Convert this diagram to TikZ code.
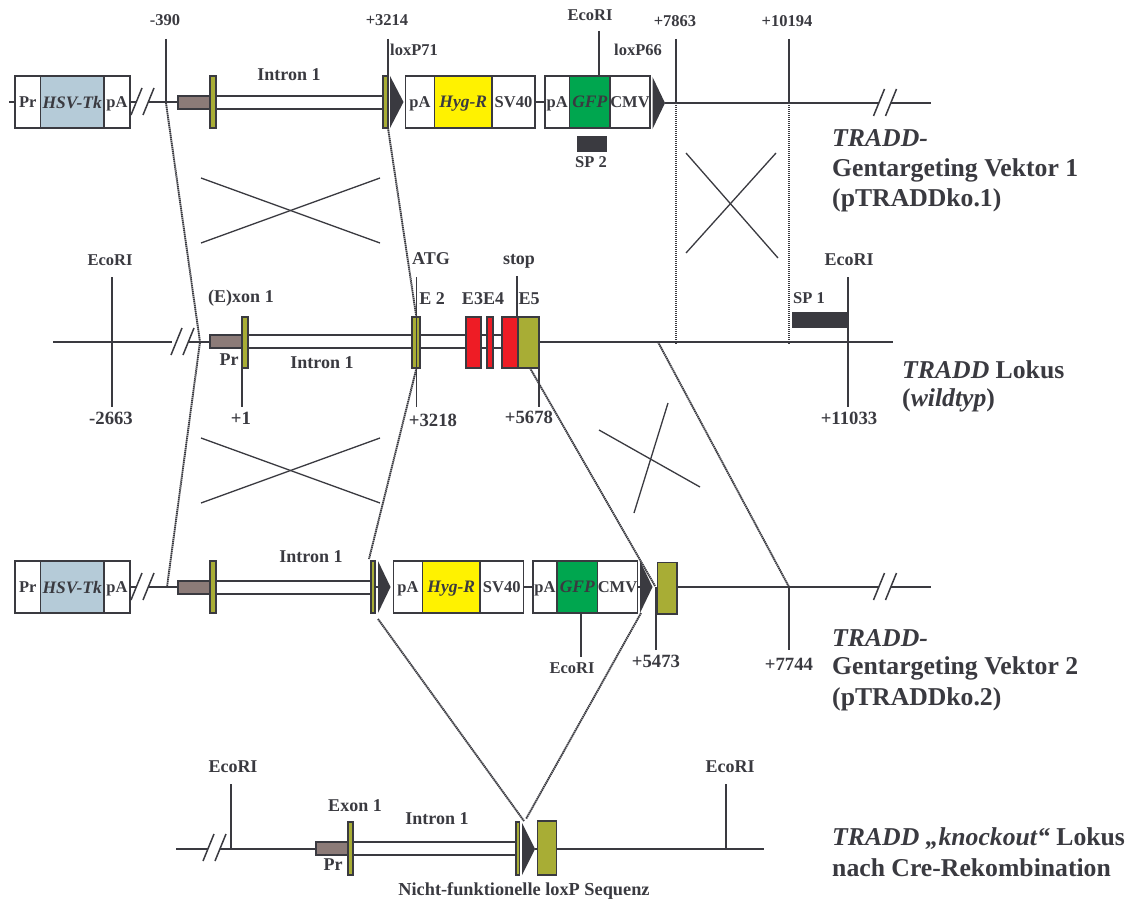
\documentclass[tikz,border=0pt]{standalone}
\usepackage{fontspec}
\setmainfont{Liberation Serif}
\definecolor{ink}{HTML}{3A3A40}
\definecolor{tkblue}{HTML}{B5CBD8}
\definecolor{hygy}{HTML}{FFF200}
\definecolor{gfpg}{HTML}{00A64F}
\definecolor{olive}{HTML}{A8AD35}
\definecolor{brownp}{HTML}{8C7B78}
\definecolor{redx}{HTML}{EE1C25}
\newcommand{\bx}[6]{%
  \pgfmathsetmacro\bxw{#4-#2}\pgfmathsetmacro\bxh{#5-#3}%
  \node[#6,minimum width=\bxw pt,minimum height=\bxh pt,anchor=north west] (#1) at (#2,#3) {};}
\newcommand{\cell}[7]{%
  \pgfmathsetmacro\bxw{#4-#2}\pgfmathsetmacro\bxh{#5-#3}%
  \node[boxp,#6,minimum width=\bxw pt,minimum height=\bxh pt,anchor=north west] (#1) at (#2,#3) {#7};}
\newcommand{\tri}[4]{%
  \coordinate (#1-w) at (#2,#4); \coordinate (#1-e) at (#3,#4);
  \fill[ink] (#2,#4-26) -- (#3,#4) -- (#2,#4+26) -- cycle;}
\newcommand{\brk}[2]{%
  \draw[thinl] (#1,#2+13) -- (#1+11,#2-14);
  \draw[thinl] (#1+12,#2+13) -- (#1+23,#2-14);}
\begin{document}
\begin{tikzpicture}[x=1pt,y=-1pt,line cap=butt,
  mainl/.style={draw=ink,line width=1.9pt},
  thinl/.style={draw=ink,line width=1.5pt},
  xl/.style={draw=ink,line width=1.3pt},
  dotl/.style={draw=ink,line width=1.9pt,dash pattern=on 1.4pt off 0.6pt},
  boxp/.style={draw=ink,line width=1.7pt,fill=white,inner sep=0pt,outer sep=0pt,text=ink,text depth=0pt,font=\bfseries\fontsize{16.5}{16.5}\selectfont},
  solid box/.style={draw=ink,line width=1.7pt,inner sep=0pt,outer sep=0pt},
  lab/.style={text=ink,inner sep=0pt,font=\bfseries\fontsize{16.5}{17}\selectfont},
  labb/.style={text=ink,inner sep=0pt,font=\bfseries\fontsize{18}{18}\selectfont},
  labn/.style={text=ink,inner sep=0pt,font=\bfseries\fontsize{18.7}{19}\selectfont},
  intr/.style={text=ink,inner sep=0pt,font=\bfseries\fontsize{18}{18}\selectfont},
  big/.style={text=ink,inner sep=0pt,anchor=west,font=\bfseries\fontsize{25.7}{26}\selectfont},
  ital/.style={font=\bfseries\itshape\fontsize{17.5}{18}\selectfont}]
\path[fill=white] (0,0) rectangle (1135,899);
\useasboundingbox (0,0) rectangle (1135,899);

% ---- coordinates for connector ends
\coordinate (a1) at (166,39);   \coordinate (a2) at (166,103);
\coordinate (b1) at (388,39);   \coordinate (b2) at (388,128);
\coordinate (c1) at (599,31);
\coordinate (d1) at (676,39);   \coordinate (d2) at (676,103);  \coordinate (d3) at (676,344);
\coordinate (e1) at (789,39);   \coordinate (e2) at (789,103);  \coordinate (e3) at (789,344);
\coordinate (f1) at (200,342);  \coordinate (f2) at (167,587);
\coordinate (g1) at (416.5,318);\coordinate (g2) at (416.5,368);\coordinate (g3) at (369,559);
\coordinate (h1) at (530,368);  \coordinate (h2) at (655,586);
\coordinate (i1) at (658,342);  \coordinate (i2) at (789,587);
\coordinate (j1) at (378,619);  \coordinate (j2) at (524,821);
\coordinate (k1) at (641,613);  \coordinate (k2) at (526,819);

% ---- dotted homology lines
\draw[dotl] (a2) -- (f1) -- (f2);
\draw[dotl] (b2) -- (g1);
\draw[dotl] (g2) -- (g3);
\draw[dotl] (d2) -- (d3);
\draw[dotl] (e2) -- (e3);
\draw[dotl] (h1) -- (h2);
\draw[dotl] (i1) -- (i2);
\draw[dotl] (j1) -- (j2);
\draw[dotl] (k1) -- (k2);

% ---- crossover marks
\draw[xl] (201,178) -- (380,243);  \draw[xl] (201,243) -- (380,178);
\draw[xl] (686,153) -- (778,258);  \draw[xl] (776,153) -- (686,253);
\draw[xl] (201,438) -- (380,503);  \draw[xl] (201,503) -- (380,438);
\draw[xl] (599,430) -- (700,487);  \draw[xl] (668,403) -- (634,513);

% ================= Row 1
\coordinate (r1s) at (9,102);
\cell{r1pr}{15}{76}{40.5}{128}{}{Pr}
\cell{r1tk}{40.5}{76}{104}{128}{fill=tkblue,ital}{HSV-Tk}
\cell{r1pa}{104}{76}{130}{128}{}{pA}
\coordinate (r1g1) at (136,102); \coordinate (r1g2) at (148,102);
\draw[mainl] (r1s) -- (r1pr.west);
\draw[mainl] (r1pa.east) -- (r1g1);
\brk{131}{102}
\bx{r1prom}{178}{96}{210}{109}{solid box,fill=brownp}
\draw[mainl] (r1g2) -- (r1g2 -| r1prom.west);
\draw[mainl] (216,96) -- (383,96);
\draw[mainl] (216,109) -- (383,109);
\bx{r1e1}{210}{76}{216}{128}{solid box,fill=olive}
\bx{r1e2}{383}{76}{388}{128}{solid box,fill=olive}
\draw[thinl] (a1) -- (a2);
\draw[thinl] (b1) -- (b2);
\tri{r1t1}{390}{403.5}{102}
\cell{r1p2}{405.5}{76}{434.5}{128}{}{pA}
\cell{r1hy}{434.5}{76}{492}{128}{fill=hygy,ital}{Hyg-R}
\cell{r1sv}{492}{76}{535}{128}{}{SV40}
\cell{r1p3}{545}{76}{569.5}{128}{}{pA}
\cell{r1gf}{569.5}{76}{610}{128}{fill=gfpg,ital}{GFP}
\cell{r1cm}{610}{76}{650}{128}{}{CMV}
\draw[mainl] (r1sv.east) -- (r1p3.west);
\draw[thinl] (c1) -- (r1gf.north -| c1);
\tri{r1t2}{652.5}{665}{103}
\coordinate (r1x1) at (879,103); \coordinate (r1x2) at (891,103); \coordinate (r1end) at (931,103);
\draw[mainl] (r1t2-e) -- (r1x1);
\draw[mainl] (r1x2) -- (r1end);
\brk{873.5}{103}
\draw[thinl] (d1) -- (d2);
\draw[thinl] (e1) -- (e2);
\bx{sp2}{577.5}{137}{606.5}{151}{solid box,fill=ink}

\node[lab] (l1) at (165,20) {-390};
\node[lab] (l2) at (387,20) {+3214};
\node[lab] (l3) at (414,50) {loxP71};
\node[intr] (l4) at (289,75) {Intron 1};
\node[lab] (l5) at (590,15) {EcoRI};
\node[lab] (l6) at (675,21) {+7863};
\node[lab] (l7) at (787,21) {+10194};
\node[lab] (l8) at (638,50) {loxP66};
\node[lab] (l9) at (591,162) {SP 2};
\node[big] (t1a) at (832,138) {\itshape TRADD-};
\node[big] (t1b) at (832,170) {Gentargeting Vektor 1};
\node[big] (t1c) at (832,200) {(pTRADDko.1)};

% ================= Row 2 (wild type)
\coordinate (r2s) at (53,342); \coordinate (r2g1) at (172,342); \coordinate (r2g2) at (188,342); \coordinate (r2end) at (893,342);
\draw[mainl] (r2s) -- (r2g1);
\brk{171}{342}
\bx{r2prom}{210}{335}{242}{348}{solid box,fill=brownp}
\draw[mainl] (r2g2) -- (r2g2 -| r2prom.west);
\draw[mainl] (248,335) -- (502,335);
\draw[mainl] (248,348) -- (502,348);
\bx{r2e1}{242}{317}{248}{368}{solid box,fill=olive}
\bx{r2e2}{412}{317}{420}{368}{solid box,fill=olive}
\bx{r2e3}{466}{317}{481}{368}{solid box,fill=redx}
\bx{r2e4}{487}{317}{493}{368}{solid box,fill=redx}
\bx{r2e5}{502}{317}{518}{368}{solid box,fill=redx}
\bx{r2e6}{518}{317}{539}{368}{solid box,fill=olive}
\draw[mainl] (r2e6.east |- r2end) -- (r2end);
\coordinate (v1a) at (416.5,277); \coordinate (v1b) at (416.5,407);
\coordinate (v2a) at (517,276);
\coordinate (v3a) at (242,368);   \coordinate (v3b) at (242,407);
\coordinate (v4a) at (539,368);   \coordinate (v4b) at (539,407);
\coordinate (v5a) at (112,277);   \coordinate (v5b) at (112,407);
\coordinate (v6a) at (848,277);   \coordinate (v6b) at (848,407);
\draw[thinl] (v1a) -- (v1b);
\draw[thinl] (v2a) -- (v2a |- r2e6.north);
\draw[thinl] (v3a) -- (v3b);
\draw[thinl] (v4a) -- (v4b);
\draw[thinl] (v5a) -- (v5b);
\draw[thinl] (v6a) -- (v6b);
\bx{sp1}{793}{313}{848}{327}{solid box,fill=ink}

\node[lab] (m1) at (110,260) {EcoRI};
\node[labb] (m2) at (431,259) {ATG};
\node[labb] (m3) at (519,261) {stop};
\node[labb] (m4) at (849,260) {EcoRI};
\node[labb] (m5) at (241,298) {(E)xon 1};
\node[labb] (m6) at (432,299) {E 2};
\node[labb] (m7) at (483,299) {E3E4};
\node[labb] (m8) at (529,299) {E5};
\node[lab] (m9) at (809,298) {SP 1};
\node[labb] (m10) at (229,360) {Pr};
\node[intr] (m11) at (322,363) {Intron 1};
\node[labn] (m12) at (111,418) {-2663};
\node[labn] (m13) at (241,418) {+1};
\node[labn] (m14) at (433,420) {+3218};
\node[labn] (m15) at (529,417) {+5678};
\node[labn] (m16) at (849,418) {+11033};
\node[big] (t2a) at (902,370) {\itshape TRADD\upshape{} Lokus};
\node[big] (t2b) at (902,400) {(\itshape wildtyp\upshape)};

% ================= Row 3
\cell{r3pr}{15}{561}{40.5}{613}{}{Pr}
\cell{r3tk}{40.5}{561}{104}{613}{fill=tkblue,ital}{HSV-Tk}
\cell{r3pa}{104}{561}{130}{613}{}{pA}
\coordinate (r3g1) at (136,587); \coordinate (r3g2) at (148,587);
\draw[mainl] (r3pa.east) -- (r3g1);
\brk{131}{587}
\bx{r3prom}{178}{581}{210}{594}{solid box,fill=brownp}
\draw[mainl] (r3g2) -- (r3g2 -| r3prom.west);
\draw[mainl] (216,581) -- (371,581);
\draw[mainl] (216,594) -- (371,594);
\bx{r3e1}{210}{561}{216}{613}{solid box,fill=olive}
\bx{r3e2}{371}{561}{375}{613}{solid box,fill=olive}
\tri{r3t1}{378}{390.5}{587}
\draw[mainl] (r3e2.east) -- (r3t1-w);
\cell{r3p2}{393.5}{561}{422.5}{613}{}{pA}
\cell{r3hy}{422.5}{561}{480}{613}{fill=hygy,ital}{Hyg-R}
\cell{r3sv}{480}{561}{523.5}{613}{}{SV40}
\cell{r3p3}{533}{561}{557}{613}{}{pA}
\cell{r3gf}{557}{561}{597.5}{613}{fill=gfpg,ital}{GFP}
\cell{r3cm}{597.5}{561}{637.5}{613}{}{CMV}
\draw[mainl] (r3sv.east) -- (r3p3.west);
\tri{r3t2}{640}{652.5}{587}
\draw[mainl] (r3cm.east) -- (r3t2-w);
\bx{r3ex}{657.5}{562.5}{677}{614}{solid box,fill=olive}
\coordinate (r3x1) at (879,587); \coordinate (r3x2) at (891,587); \coordinate (r3end) at (931,587);
\draw[mainl] (r3ex.east |- r3x1) -- (r3x1);
\draw[mainl] (r3x2) -- (r3end);
\brk{873.5}{587}
\coordinate (w1) at (581,613);  \coordinate (w2) at (581,657);
\coordinate (w3) at (656,587);  \coordinate (w4) at (656,650);
\coordinate (w5) at (789,587);  \coordinate (w6) at (789,650);
\draw[thinl] (w1) -- (w2);
\draw[thinl] (w3) -- (w4);
\draw[thinl] (w5) -- (w6);

\node[intr] (n1) at (311,557) {Intron 1};
\node[lab] (n2) at (572,668) {EcoRI};
\node[labn] (n3) at (656,661) {+5473};
\node[labn] (n4) at (789,664) {+7744};
\node[big] (t3a) at (832,638) {\itshape TRADD-};
\node[big] (t3b) at (832,668) {Gentargeting Vektor 2};
\node[big] (t3c) at (832,699) {(pTRADDko.2)};

% ================= Row 4
\coordinate (r4s) at (176,849); \coordinate (r4g1) at (208,849); \coordinate (r4g2) at (220,849); \coordinate (r4end) at (764,849);
\draw[mainl] (r4s) -- (r4g1);
\brk{203}{848}
\bx{r4prom}{316}{842}{348}{855}{solid box,fill=brownp}
\draw[mainl] (r4g2) -- (r4g2 -| r4prom.west);
\draw[mainl] (353,842) -- (516,842);
\draw[mainl] (353,855) -- (516,855);
\bx{r4e1}{348}{822}{353}{875}{solid box,fill=olive}
\bx{r4e2}{516}{822}{519.5}{875}{solid box,fill=olive}
\tri{r4t}{522}{535}{849}
\bx{r4ex}{537.5}{821}{556.5}{875}{solid box,fill=olive}
\draw[mainl] (r4t-e) -- (r4t-e -| r4ex.west);
\draw[mainl] (r4ex.east |- r4end) -- (r4end);
\coordinate (u1) at (231,784);  \coordinate (u2) at (231,849);
\coordinate (u3) at (726,784);  \coordinate (u4) at (726,849);
\draw[thinl] (u1) -- (u2);
\draw[thinl] (u3) -- (u4);

\node[labb] (o1) at (233,767) {EcoRI};
\node[labb] (o2) at (730,767) {EcoRI};
\node[labb] (o3) at (355,806) {Exon 1};
\node[intr] (o4) at (437,819) {Intron 1};
\node[labb] (o5) at (333,865) {Pr};
\node[text=ink,inner sep=0pt,font=\bfseries\fontsize{18.3}{19}\selectfont] (o6) at (524,891) {Nicht-funktionelle loxP Sequenz};
\node[big] (t4a) at (832,839) {\itshape TRADD „knockout“\upshape{} Lokus};
\node[big] (t4b) at (832,868) {nach Cre-Rekombination};
\end{tikzpicture}
\end{document}
